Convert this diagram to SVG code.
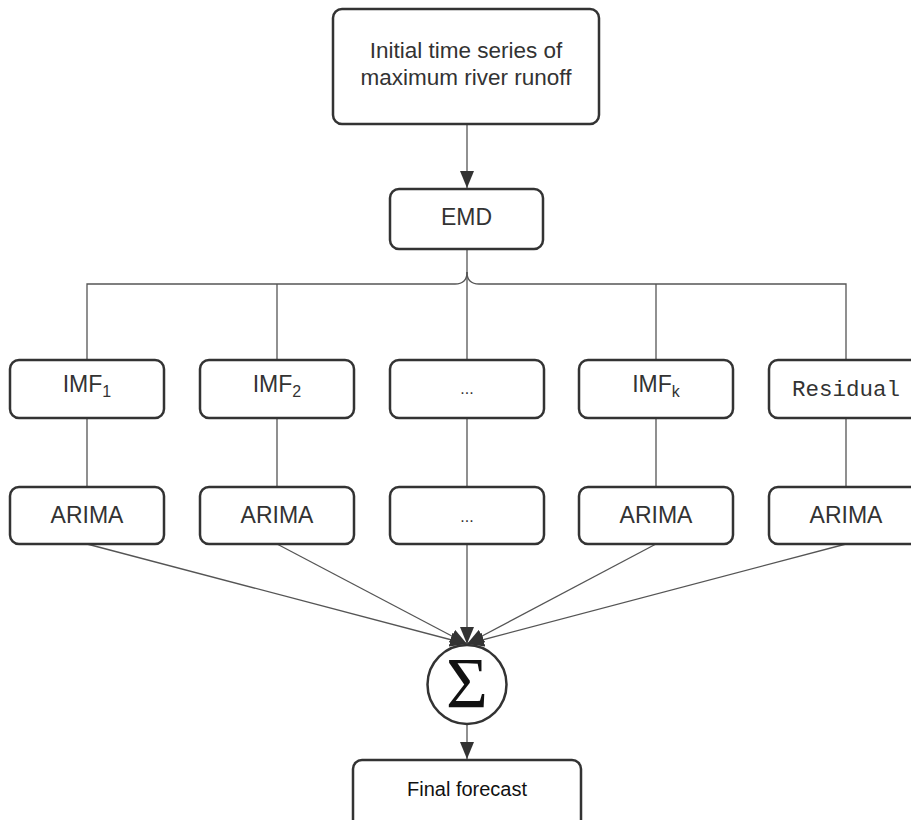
<svg xmlns="http://www.w3.org/2000/svg" width="911" height="820" viewBox="0 0 911 820">
<style>
.box{fill:#fff;stroke:#333;stroke-width:2.5}
.t{font-family:"Liberation Sans",Arial,sans-serif;font-size:23px;fill:#333;text-anchor:middle}
.m{font-family:"Liberation Mono","Courier New",monospace;font-size:22.5px;fill:#333;text-anchor:middle}
.sub{font-size:16px}
.c{fill:none;stroke:#555;stroke-width:1.3}
</style>
<defs>
<marker id="ah" markerUnits="userSpaceOnUse" markerWidth="18" markerHeight="14" refX="17" refY="7" orient="auto">
<path d="M0,0 L17,7 L0,14 Z" fill="#333"/>
</marker>
</defs>
<rect width="911" height="820" fill="#fff"/>
<g id="connectors">
<line class="c" x1="467" y1="124" x2="467" y2="188" marker-end="url(#ah)"/>
<path class="c" d="M467,249 V360"/>
<path class="c" d="M467,272 Q467,284 455,284 H87 V360"/>
<path class="c" d="M467,272 Q467,284 479,284 H846 V360"/>
<path class="c" d="M277,284 V360"/>
<path class="c" d="M656,284 V360"/>
<path class="c" d="M87,418 V487 M277,418 V487 M467,418 V487 M656,418 V487 M846,418 V487"/>
<line class="c" x1="87" y1="544" x2="467" y2="644" marker-end="url(#ah)"/>
<line class="c" x1="277" y1="544" x2="467" y2="644" marker-end="url(#ah)"/>
<line class="c" x1="467" y1="544" x2="467" y2="644" marker-end="url(#ah)"/>
<line class="c" x1="656" y1="544" x2="467" y2="644" marker-end="url(#ah)"/>
<line class="c" x1="846" y1="544" x2="467" y2="644" marker-end="url(#ah)"/>
<line class="c" x1="467" y1="724" x2="467" y2="759" marker-end="url(#ah)"/>
</g>
<g id="initial">
<rect class="box" x="333" y="9" width="266" height="115" rx="9"/>
<text class="t" x="466" y="58" style="font-size:22.5px">Initial time series of</text>
<text class="t" x="466" y="85" style="font-size:22.5px">maximum river runoff</text>
</g>
<g id="emd">
<rect class="box" x="390" y="189" width="153" height="60" rx="9"/>
<text class="t" x="466.5" y="225">EMD</text>
</g>
<g id="imf1">
<rect class="box" x="10" y="360" width="154" height="58" rx="9"/>
<text class="t" x="87" y="392">IMF<tspan class="sub" dy="5">1</tspan></text>
</g>
<g id="imf2">
<rect class="box" x="200" y="360" width="154" height="58" rx="9"/>
<text class="t" x="277" y="392">IMF<tspan class="sub" dy="5">2</tspan></text>
</g>
<g id="imfdots">
<rect class="box" x="390" y="360" width="154" height="58" rx="9"/>
<text class="t" x="467" y="394" style="font-size:16px">...</text>
</g>
<g id="imfk">
<rect class="box" x="579" y="360" width="154" height="58" rx="9"/>
<text class="t" x="656" y="392">IMF<tspan class="sub" dy="5">k</tspan></text>
</g>
<g id="residual">
<rect class="box" x="769" y="360" width="154" height="58" rx="9"/>
<text class="m" x="846" y="396">Residual</text>
</g>
<g id="arima1">
<rect class="box" x="10" y="487" width="154" height="57" rx="9"/>
<text class="t" x="87" y="523">ARIMA</text>
</g>
<g id="arima2">
<rect class="box" x="200" y="487" width="154" height="57" rx="9"/>
<text class="t" x="277" y="523">ARIMA</text>
</g>
<g id="arimadots">
<rect class="box" x="390" y="487" width="154" height="57" rx="9"/>
<text class="t" x="467" y="522" style="font-size:16px">...</text>
</g>
<g id="arimak">
<rect class="box" x="579" y="487" width="154" height="57" rx="9"/>
<text class="t" x="656" y="523">ARIMA</text>
</g>
<g id="arimares">
<rect class="box" x="769" y="487" width="154" height="57" rx="9"/>
<text class="t" x="846" y="523">ARIMA</text>
</g>
<g id="sum">
<circle cx="467" cy="684.5" r="39.5" fill="#fff" stroke="#333" stroke-width="2.5"/>
<text x="467" y="707" style="font-family:'Liberation Serif','Times New Roman',serif;font-size:72px;fill:#111;text-anchor:middle">Σ</text>
</g>
<g id="final">
<rect class="box" x="353" y="760" width="228" height="70" rx="9"/>
<text class="t" x="467" y="796" style="font-size:20px;fill:#111">Final forecast</text>
</g>
</svg>
